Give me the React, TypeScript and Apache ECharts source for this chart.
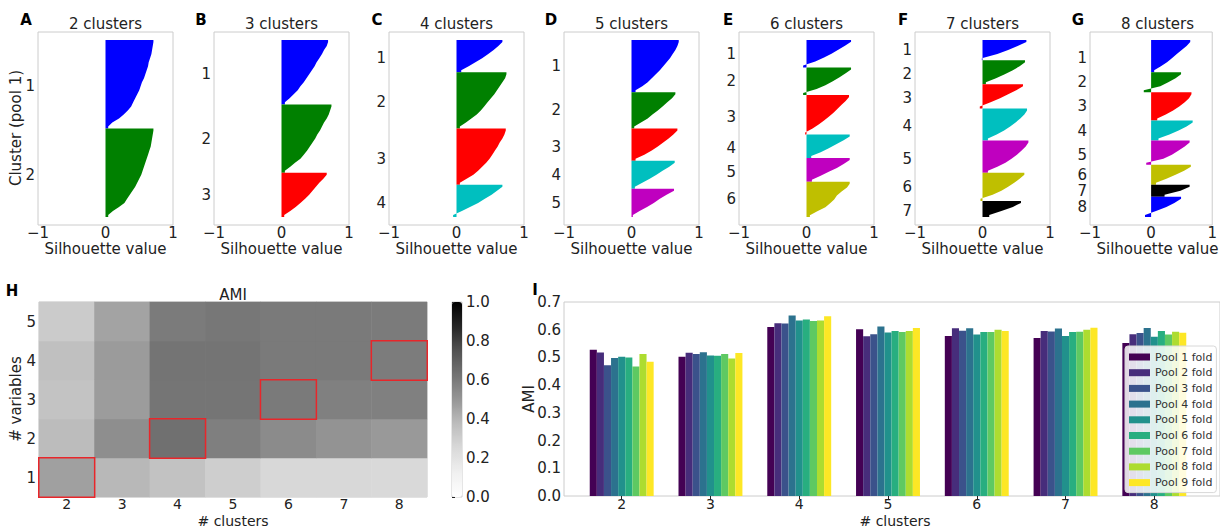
import React, { useEffect, useRef } from 'react';
import * as echarts from 'echarts';

const FONT = 'DejaVu Sans';
const TXT = '#222222';
const FRAME = '#cccccc';

// ---------- Silhouette panels (A–G): per-cluster sorted silhouette values ----------
const clusterColors = ['#0000ff', '#008000', '#ff0000', '#00bfbf', '#bf00bf', '#bfbf00', '#000000', '#0000ff'];

const sil2 = [
  [0.71, 0.70, 0.69, 0.68, 0.66, 0.64, 0.63, 0.61, 0.59, 0.57, 0.54, 0.52, 0.50, 0.47, 0.44, 0.41, 0.38, 0.33, 0.27, 0.20, 0.10, 0.04],
  [0.71, 0.70, 0.69, 0.68, 0.67, 0.65, 0.63, 0.61, 0.59, 0.57, 0.55, 0.53, 0.50, 0.47, 0.44, 0.40, 0.36, 0.32, 0.28, 0.20, 0.11, 0.04],
];
const sil3 = [
  [0.69, 0.67, 0.63, 0.60, 0.56, 0.52, 0.49, 0.45, 0.41, 0.37, 0.33, 0.28, 0.24, 0.18, 0.12, 0.05],
  [0.74, 0.72, 0.70, 0.67, 0.63, 0.60, 0.57, 0.53, 0.50, 0.46, 0.42, 0.38, 0.33, 0.28, 0.20, 0.13, 0.05],
  [0.67, 0.62, 0.56, 0.51, 0.46, 0.41, 0.35, 0.28, 0.21, 0.13, 0.04],
];
const sil4 = [
  [0.68, 0.62, 0.55, 0.47, 0.38, 0.28, 0.18, 0.07],
  [0.74, 0.72, 0.68, 0.64, 0.60, 0.56, 0.51, 0.46, 0.41, 0.36, 0.30, 0.22, 0.14, 0.05],
  [0.73, 0.71, 0.68, 0.64, 0.61, 0.57, 0.53, 0.49, 0.44, 0.38, 0.32, 0.25, 0.15, 0.05],
  [0.68, 0.60, 0.52, 0.42, 0.32, 0.20, 0.08, -0.05],
];
const sil5 = [
  [0.70, 0.68, 0.65, 0.61, 0.57, 0.52, 0.47, 0.42, 0.36, 0.30, 0.24, 0.16, 0.06],
  [0.65, 0.60, 0.53, 0.46, 0.39, 0.31, 0.24, 0.14, 0.04],
  [0.68, 0.62, 0.55, 0.47, 0.39, 0.30, 0.19, 0.06],
  [0.64, 0.56, 0.46, 0.37, 0.27, 0.16, 0.05],
  [0.63, 0.52, 0.42, 0.33, 0.23, 0.12, 0.02],
];
const sil6 = [
  [0.66, 0.57, 0.47, 0.37, 0.26, 0.13, -0.05],
  [0.66, 0.58, 0.49, 0.39, 0.28, 0.15, -0.05],
  [0.63, 0.58, 0.52, 0.46, 0.40, 0.33, 0.26, 0.18, 0.09, -0.02],
  [0.64, 0.55, 0.44, 0.33, 0.21, 0.07],
  [0.64, 0.55, 0.45, 0.33, 0.21, 0.08],
  [0.64, 0.60, 0.52, 0.45, 0.41, 0.35, 0.28, 0.16, 0.05],
];
const sil7 = [
  [0.65, 0.52, 0.38, 0.22, -0.01],
  [0.63, 0.55, 0.45, 0.33, 0.20, 0.05],
  [0.60, 0.50, 0.38, 0.26, 0.12, -0.04],
  [0.66, 0.62, 0.56, 0.49, 0.41, 0.32, 0.21, 0.08],
  [0.68, 0.64, 0.58, 0.51, 0.43, 0.34, 0.22, 0.08],
  [0.62, 0.55, 0.47, 0.38, 0.28, 0.15, -0.03],
  [0.57, 0.45, 0.28, 0.10],
];
const sil8 = [
  [0.64, 0.58, 0.50, 0.42, 0.34, 0.26, 0.16, 0.05],
  [0.49, 0.40, 0.28, 0.15, -0.12],
  [0.66, 0.62, 0.55, 0.46, 0.36, 0.24, 0.10],
  [0.68, 0.58, 0.45, 0.30, 0.12],
  [0.63, 0.55, 0.45, 0.34, 0.20, -0.08],
  [0.65, 0.54, 0.40, 0.25, 0.08],
  [0.63, 0.48, 0.22],
  [0.49, 0.38, 0.25, 0.08, -0.10],
];
const silPanels = [sil2, sil3, sil4, sil5, sil6, sil7, sil8];
const silTitles = ['2 clusters', '3 clusters', '4 clusters', '5 clusters', '6 clusters', '7 clusters', '8 clusters'];
const silLetters = ['A', 'B', 'C', 'D', 'E', 'F', 'G'];
const silTicks = [-1, 0, 1];

// ---------- Heatmap (H): AMI by # variables (rows) x # clusters (columns) ----------
const heatClusters = ['2', '3', '4', '5', '6', '7', '8'];
const heatVars = ['1', '2', '3', '4', '5'];
const amiVars1 = [0.468, 0.391, 0.353, 0.299, 0.254, 0.254, 0.25];
const amiVars2 = [0.378, 0.529, 0.636, 0.582, 0.539, 0.511, 0.49];
const amiVars3 = [0.348, 0.481, 0.618, 0.618, 0.6, 0.579, 0.579];
const amiVars4 = [0.361, 0.484, 0.621, 0.621, 0.6, 0.6, 0.593];
const amiVars5 = [0.312, 0.458, 0.596, 0.611, 0.6, 0.6, 0.596];
const amiRows = [amiVars1, amiVars2, amiVars3, amiVars4, amiVars5];
// highlighted cells: [cluster label, variables label]
const bestCells = [['2', '1'], ['4', '2'], ['6', '3'], ['8', '4']];
const greys = ['#ffffff', '#f0f0f0', '#d9d9d9', '#bdbdbd', '#969696', '#737373', '#525252', '#252525', '#000000'];
const colorbarTicks = [0, 0.2, 0.4, 0.6, 0.8, 1.0];

// ---------- Bars (I): AMI per pool fold ----------
const barClusters = [2, 3, 4, 5, 6, 7, 8];
const pool1 = [0.528, 0.502, 0.61, 0.602, 0.577, 0.57, 0.552];
const pool2 = [0.518, 0.517, 0.623, 0.576, 0.605, 0.595, 0.584];
const pool3 = [0.472, 0.512, 0.622, 0.584, 0.596, 0.594, 0.588];
const pool4 = [0.498, 0.519, 0.651, 0.612, 0.605, 0.604, 0.606];
const pool5 = [0.502, 0.507, 0.633, 0.59, 0.583, 0.577, 0.575];
const pool6 = [0.5, 0.506, 0.637, 0.595, 0.592, 0.592, 0.595];
const pool7 = [0.467, 0.512, 0.631, 0.592, 0.592, 0.593, 0.583];
const pool8 = [0.512, 0.496, 0.633, 0.595, 0.6, 0.6, 0.593];
const pool9 = [0.484, 0.516, 0.649, 0.606, 0.595, 0.607, 0.589];
const pools = [pool1, pool2, pool3, pool4, pool5, pool6, pool7, pool8, pool9];
const poolNames = ['Pool 1 fold', 'Pool 2 fold', 'Pool 3 fold', 'Pool 4 fold', 'Pool 5 fold', 'Pool 6 fold', 'Pool 7 fold', 'Pool 8 fold', 'Pool 9 fold'];
const viridis9 = ['#440154', '#472d7b', '#3b528b', '#2c728e', '#21918c', '#28ae80', '#5ec962', '#addc30', '#fde725'];
const barYTicks = [0, 0.1, 0.2, 0.3, 0.4, 0.5, 0.6, 0.7];

// ---------- layout ----------
const silLeft = [38, 214, 389, 564, 739, 915, 1090];
const SIL_W = 135;
const SIL_TOP = 32;
const SIL_H = 193;
const PAD_ROWS = 2;

const minus = (v: number) => (v < 0 ? '\u2212' + Math.abs(v) : String(v));

function txt(text: string, x: number, y: number, extra: any = {}, rotation = 0) {
  return {
    type: 'text',
    x,
    y,
    rotation,
    style: {
      text,
      fill: TXT,
      fontFamily: FONT,
      fontSize: 15,
      align: 'center',
      verticalAlign: 'middle',
      ...extra,
    },
  };
}

function buildOption() {
  const grid: any[] = [];
  const xAxis: any[] = [];
  const yAxis: any[] = [];
  const series: any[] = [];
  const graphic: any[] = [];

  const axisText = { color: TXT, fontFamily: FONT, fontSize: 15 };
  const bottomText = { color: TXT, fontFamily: FONT, fontSize: 14, lineHeight: 12 };

  silPanels.forEach((clusters, p) => {
    const rows: string[] = [];
    const labels: Record<number, string> = {};
    const starts: number[] = [];
    for (let i = 0; i < PAD_ROWS; i++) rows.push(String(rows.length));
    clusters.forEach((vals, c) => {
      const start = rows.length;
      starts.push(start);
      labels[start + Math.floor(vals.length / 2)] = String(c + 1);
      vals.forEach(() => rows.push(String(rows.length)));
    });
    for (let i = 0; i < PAD_ROWS; i++) rows.push(String(rows.length));

    grid.push({
      left: silLeft[p], top: SIL_TOP, width: SIL_W, height: SIL_H,
      show: true, borderColor: FRAME, borderWidth: 1, backgroundColor: 'transparent',
    });
    xAxis.push({
      gridIndex: p, type: 'value', min: -1, max: 1, interval: 1,
      axisLine: { show: false }, axisTick: { show: false }, splitLine: { show: false },
      axisLabel: { ...axisText, margin: 0, formatter: (v: number) => minus(v), customValues: silTicks },
    });
    yAxis.push({
      gridIndex: p, type: 'category', data: rows, inverse: true,
      axisLine: { show: false }, axisTick: { show: false }, splitLine: { show: false },
      axisLabel: { ...axisText, margin: 3, interval: 0, formatter: (_v: string, idx: number) => labels[idx] || '' },
    });
    series.push({
      type: 'custom', xAxisIndex: p, yAxisIndex: p, silent: true,
      data: clusters.map((_vals, c) => [0, starts[c]]),
      encode: { x: 0, y: 1 },
      renderItem: (params: any, api: any) => {
        const c = params.dataIndex;
        const vals = clusters[c];
        const s = starts[c];
        const band = api.size([0, 1])[1];
        const pts: number[][] = [];
        const x0 = api.coord([0, s])[0];
        const top = api.coord([0, s])[1] - band / 2;
        const last = s + vals.length - 1;
        const bottom = api.coord([0, last])[1] + band / 2;
        pts.push([x0, top]);
        pts.push([api.coord([vals[0], s])[0], top]);
        vals.forEach((v, i) => {
          const pt = api.coord([v, s + i]);
          pts.push([pt[0], pt[1]]);
        });
        pts.push([api.coord([vals[vals.length - 1], last])[0], bottom]);
        pts.push([x0, bottom]);
        return { type: 'polygon', shape: { points: pts }, style: { fill: clusterColors[c] } };
      },
    });
    const cx = silLeft[p] + SIL_W / 2;
    graphic.push(txt(silTitles[p], cx, 24));
    graphic.push(txt('Silhouette value', cx, 249));
  });

  const letterX = [26, 201, 377, 551, 728, 903, 1078];
  silLetters.forEach((l, i) => graphic.push(txt(l, letterX[i], 20, { fontWeight: 'bold', fontSize: 15, fill: '#000' })));
  graphic.push(txt('Cluster (pool 1)', 16, 128, {}, Math.PI / 2));

  // ---------- heatmap ----------
  const hg = grid.length;
  grid.push({ left: 39, top: 302, width: 388, height: 195, show: true, borderColor: FRAME, borderWidth: 1, backgroundColor: 'transparent' });
  xAxis.push({
    gridIndex: hg, type: 'category', data: heatClusters,
    axisLine: { show: false }, axisTick: { show: false }, splitLine: { show: false },
    axisLabel: { ...bottomText, margin: 1 },
  });
  yAxis.push({
    gridIndex: hg, type: 'category', data: heatVars,
    axisLine: { show: false }, axisTick: { show: false }, splitLine: { show: false },
    axisLabel: { ...axisText, margin: 3 },
  });
  const isBest = (c: string, v: string) => bestCells.some(([bc, bv]) => bc === c && bv === v);
  const normalCells: any[] = [];
  const bestItems: any[] = [];
  amiRows.forEach((row, vi) => {
    row.forEach((val, ci) => {
      const c = heatClusters[ci];
      const v = heatVars[vi];
      if (isBest(c, v)) {
        bestItems.push({ value: [ci, vi, val], itemStyle: { borderColor: '#e8262a', borderWidth: 1.5 } });
      } else {
        normalCells.push([ci, vi, val]);
      }
    });
  });
  const heatSeriesIndex = series.length;
  series.push({
    type: 'heatmap', xAxisIndex: hg, yAxisIndex: hg,
    data: [...normalCells, ...bestItems], silent: true,
  });
  graphic.push(txt('AMI', 233, 295));
  graphic.push(txt('# clusters', 233, 520.5, { fontSize: 14, lineHeight: 14 }));
  graphic.push(txt('# variables', 16, 399, {}, Math.PI / 2));
  graphic.push(txt('H', 12, 291, { fontWeight: 'bold', fill: '#000' }));

  // ---------- colorbar axis ----------
  const cg = grid.length;
  grid.push({ left: 452, top: 302, width: 10, height: 195, show: true, borderColor: FRAME, borderWidth: 1, backgroundColor: 'transparent' });
  xAxis.push({ gridIndex: cg, type: 'value', show: false, min: 0, max: 1 });
  yAxis.push({
    gridIndex: cg, type: 'value', position: 'right', min: 0, max: 1,
    axisLine: { show: false }, splitLine: { show: false },
    axisTick: { show: true, length: 3, lineStyle: { color: TXT }, customValues: colorbarTicks },
    axisLabel: { ...axisText, margin: 4, customValues: colorbarTicks, formatter: (v: number) => v.toFixed(1) },
  });

  // ---------- bars ----------
  const bg = grid.length;
  grid.push({ left: 564, top: 302, width: 661, height: 194, show: true, borderColor: FRAME, borderWidth: 1, backgroundColor: 'transparent' });
  xAxis.push({
    gridIndex: bg, type: 'value', min: 1.35, max: 8.74,
    axisLine: { show: false }, splitLine: { show: false },
    axisTick: { show: true, length: 3, lineStyle: { color: TXT }, customValues: barClusters },
    axisLabel: { ...bottomText, margin: 2, customValues: barClusters, formatter: (v: number) => String(v) },
  });
  yAxis.push({
    gridIndex: bg, type: 'value', min: 0, max: 0.7,
    axisLine: { show: false }, axisTick: { show: false }, splitLine: { show: false },
    axisLabel: { ...axisText, margin: 3, customValues: barYTicks, formatter: (v: number) => v.toFixed(1) },
  });
  pools.forEach((vals, k) => {
    series.push({
      type: 'bar', name: poolNames[k], xAxisIndex: bg, yAxisIndex: bg,
      data: barClusters.map((c, i) => [c, vals[i]]),
      itemStyle: { color: viridis9[k] },
      barGap: '0%', barCategoryGap: '28%', silent: true,
    });
  });
  graphic.push(txt('AMI', 529, 399, {}, Math.PI / 2));
  graphic.push(txt('# clusters', 895, 520.5, { fontSize: 14, lineHeight: 14 }));
  graphic.push(txt('I', 535, 290, { fontWeight: 'bold', fill: '#000' }));

  return {
    animation: false,
    backgroundColor: '#ffffff',
    textStyle: { fontFamily: FONT },
    grid,
    xAxis,
    yAxis,
    series,
    graphic,
    visualMap: [{
      type: 'continuous', seriesIndex: heatSeriesIndex, min: 0, max: 1,
      left: 452, top: 302, itemWidth: 10, itemHeight: 195, orient: 'vertical',
      calculable: false, padding: 0, inRange: { color: greys }, hoverLink: false,
    }],
    legend: {
      data: poolNames, orient: 'vertical', left: 1125, top: 346,
      itemWidth: 21, itemHeight: 7, itemGap: 3.7, icon: 'rect',
      textStyle: { fontFamily: FONT, fontSize: 11, color: '#333', lineHeight: 12 },
      backgroundColor: 'rgba(255,255,255,0.85)', borderColor: '#d8d8d8', borderWidth: 1, borderRadius: 3,
      padding: [5, 4, 4, 4], selectedMode: false,
    },
  };
}

export default function App() {
  const ref = useRef<HTMLDivElement>(null);
  useEffect(() => {
    if (!ref.current) return;
    const chart = echarts.init(ref.current, undefined, { renderer: 'svg' });
    chart.setOption(buildOption() as any);
    return () => chart.dispose();
  }, []);
  return <div ref={ref} style={{ position: 'fixed', left: 0, top: 0, width: 1220, height: 528 }} />;
}
